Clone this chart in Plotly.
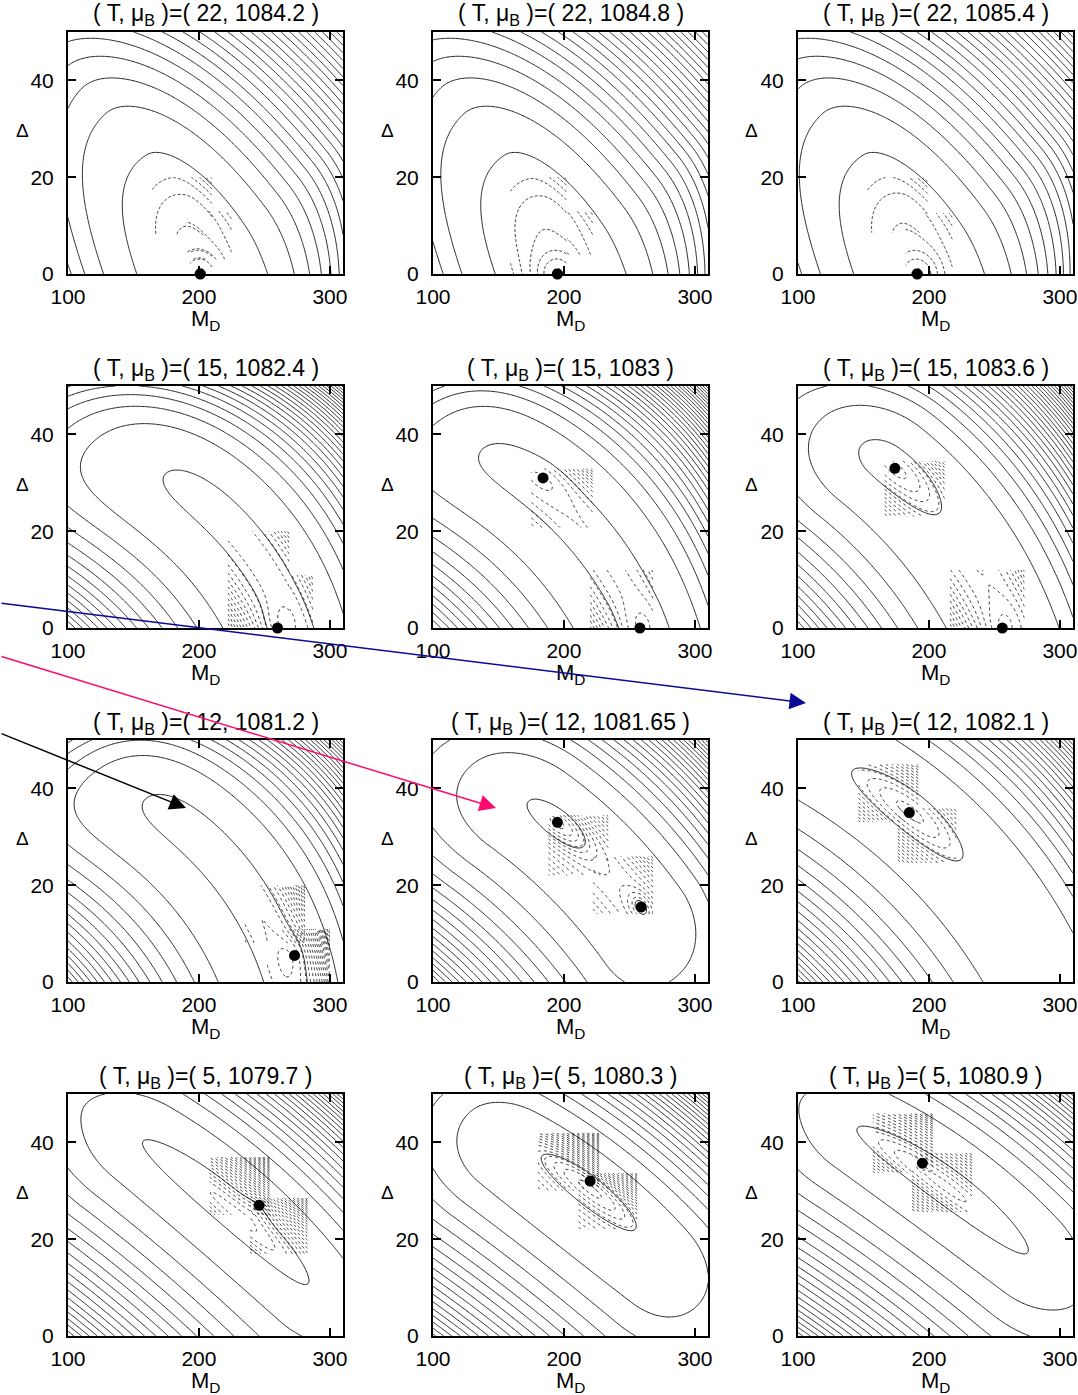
import numpy as np
import plotly.graph_objects as go

W, H = 1078, 1395
COL_LEFT = [68, 433, 798]
ROW_TOP = [32, 386, 740, 1094]
PW, PH = 275, 242

T_vals = [22, 22, 22, 15, 15, 15, 12, 12, 12, 5, 5, 5]
mu_vals = ["1084.2", "1084.8", "1085.4", "1082.4", "1083", "1083.6",
           "1081.2", "1081.65", "1082.1", "1079.7", "1080.3", "1080.9"]

# minima (dots)
min_M = [[201], [195], [191], [260], [184, 258], [174, 256],
         [273], [195, 259], [185], [246], [220], [195]]
min_D = [[0], [0], [0], [0], [31, 0], [33, 0],
         [5.5], [33, 15.5], [35], [27], [32], [35.7]]

# valley end points (M, Delta) of each landscape
v1_M = [140, 135, 130, 175, 138, 120, 160, 150, 125, 134, 138, 125]
v1_D = [47, 47, 47, 32, 37, 43, 38, 41, 47, 45, 43, 47]
v2_M = [201, 196, 191, 273, 263, 262, 267, 285, 290, 305, 293, 300]
v2_D = [0, 0, 0, 0, 0, 0, 0, 3, 0, 5, 10, 12]
kap = [0, 0, 0, 0.17, 0.15, 0.12, 0.17, 0.1, 0.1, 0.05, 0.05, 0.05]
A_c = [1.08, 1.08, 1.08, 2.2, 2.2, 2.2, 2.2, 2.2, 2.2, 3.0, 3.0, 3.0]
A4n = [0.853, 0.853, 0.853, 0.5, 0.5, 0.5, 0.5, 0.5, 0.5, 0.3, 0.3, 0.3]
A4p = [0.0, 0.0, 0.0, 0.5, 0.5, 0.5, 0.5, 0.5, 0.5, 0.3, 0.3, 0.3]
C_c = [3.35, 3.35, 3.35, 2.6, 2.6, 2.6, 2.6, 2.6, 2.6, 3.0, 3.0, 3.0]
rC = [2, 2, 2, 3, 3, 3, 3, 3, 3, 3, 3, 3]
# steep upper-right wall: direction (None: across the valley), offset, bending
wall_phi = [45, 45, 45, None, None, None, None, None, None, None, None, None]
wall_u0 = [0.465, 0.465, 0.465, 0, 0, 0, 0, 0, 0, 0, 0, 0]
wall_k = [0.54, 0.54, 0.54, 0, 0, 0, 0, 0, 0, 0, 0, 0]
off = [0.5, 0.5, 0.5, 0.1, 0.14, 0.3, 0.12, 0.3, 0.3, 0.35, 0.35, 0.35]
Q0 = [0, 0, 0, 0, 0, 0.45, 0, 0.5, 0.5, 0.45, 0.45, 0.45]
Q2 = [0, 0, 0, 0, 0, 0, 0, 0, 0, 0.3, 0.3, 0.3]
Bp = [0.386, 0.386, 0.386, 0.1, 0.14, 3.4, 0.12, 2.64, 6.0, 3.0, 3.0, 3.0]
sp = [-1, -1, -1, 0, 0, 0.5, 0, 0.7, 0.9, 0.75, 0.75, 0.75]
qp = [3, 3, 3, 4.5, 6, 2, 6, 2, 2, 2, 2, 2]
Bn = [0.386, 0.386, 0.386, 0, 0, 0, 0, 3.8, 0, 3.0, 3.0, 3.0]
sn = [-1, -1, -1, 0, 0, 0, 0, -0.6, 0, -0.75, -0.75, -0.75]
qn = [3, 3, 3, 2, 2, 2, 2, 2, 2, 2, 2, 2]
# local wells: (M, Delta, depth, along width, across width)
wells = [
    [(201, 0, 0.3, 0.15, 0.15)],
    [(195, 0, 0.3, 0.15, 0.15)],
    [(191, 0, 0.3, 0.15, 0.15)],
    [(260, 0, 0.08, 0.15, 0.15)],
    [(184, 31, 0.1, 0.2, 0.12), (258, 0, 0.08, 0.15, 0.15)],
    [(174, 33, 0.4, 0.45, 0.2), (256, 0, 0.1, 0.15, 0.15)],
    [(273, 5.5, 0.08, 0.15, 0.15)],
    [(195, 33, 0.45, 0.28, 0.12), (259, 15.5, 0.25, 0.12, 0.08)],
    [(185, 35, 0.45, 0.55, 0.2)],
    [(222, 26.5, 0.4, 1.2, 0.15), (246, 27, 0.1, 0.12, 0.1)],
    [(220, 31, 0.4, 0.5, 0.12)],
    [(208, 31.5, 0.4, 1.2, 0.15)],
]

# regions with fine (dotted) contours: (M0, M1, D0, D1)
patches = [
    [(164, 210, 8, 20), (190, 225, 3, 13), (193, 210, 0, 5)],
    [(159, 202, 0, 20), (202, 222, 4, 13)],
    [(153, 199, 8.5, 20), (182, 218, 0, 12.6)],
    [(222, 269, 0, 20), (269, 287, 0, 11)],
    [(175, 222, 20.7, 33), (220, 268, 0, 12)],
    [(166, 212, 23, 34.5), (216, 273, 0, 12)],
    [(235, 281, 8, 20), (252, 300, 0, 11)],
    [(188, 234, 22, 34.5), (222, 268, 14, 26)],
    [(146, 192, 33, 45), (176, 221, 24.6, 36)],
    [(208, 254, 25, 37), (239, 283, 17, 28.5)],
    [(180, 227, 30, 42), (211, 256, 22, 33.7)],
    [(157, 203, 33.7, 46), (187, 233, 25.6, 37.8)],
]

M_grid = np.linspace(100, 310, 221)
D_grid = np.linspace(0, 50, 161)
SX, SY = 0.0131, 0.0484  # visual scale (units of 100 px)


def coords(k, MM, DD):
    X = (MM - 100) * SX
    Y = DD * SY
    x1, y1 = (v1_M[k] - 100) * SX, v1_D[k] * SY
    x2, y2 = (v2_M[k] - 100) * SX, v2_D[k] * SY
    a = np.arctan2(y1 - y2, x1 - x2)
    L = 0.5 * np.hypot(x1 - x2, y1 - y2)
    xc, yc = 0.5 * (x1 + x2), 0.5 * (y1 + y2)
    dx, dy = X - xc, Y - yc
    s = dx * np.cos(a) + dy * np.sin(a)
    t = dx * np.sin(a) - dy * np.cos(a)
    te = t - kap[k] * (L ** 2 - s ** 2)
    return X, Y, s, te, L


def field(k, MM, DD):
    X, Y, s, te, L = coords(k, MM, DD)
    f = A_c[k] * te ** 2 + np.where(te < 0, A4n[k], A4p[k]) * te ** 4
    if wall_phi[k] is None:
        u = te
    else:
        ph = np.radians(wall_phi[k])
        ex = X - (v2_M[k] - 100) * SX
        ey = Y - v2_D[k] * SY
        p = ex * np.cos(ph) + ey * np.sin(ph)
        w = -ex * np.sin(ph) + ey * np.cos(ph)
        u = p + wall_k[k] * np.clip(-w, 0, None) ** 2 - wall_u0[k]
    f = f + C_c[k] * np.clip(u, 0, None) ** rC[k]
    sig = s / L
    f = f + Q0[k] + Q2[k] * sig ** 2
    f = f + Bp[k] * np.clip(sig - sp[k], 0, None) ** qp[k]
    f = f + Bn[k] * np.clip(sn[k] - sig, 0, None) ** qn[k]
    for (wm, wd, dep, wl, wt) in wells[k]:
        _, _, sw, tw, _ = coords(k, np.array(wm, float), np.array(wd, float))
        f = f - dep * np.exp(-(s - sw) ** 2 / (2 * wl ** 2) - (te - tw) ** 2 / (2 * wt ** 2))
    return f


fig = go.Figure()
BLACK = [[0, "black"], [1, "black"]]
FONT = "Liberation Sans, Arial, sans-serif"
MM, DD = np.meshgrid(M_grid, D_grid)

annotations = []
for k in range(12):
    r, c = divmod(k, 3)
    ax_id = "" if k == 0 else str(k + 1)
    x0 = COL_LEFT[c]
    y0 = ROW_TOP[r]
    Z = field(k, MM, DD)
    fig.add_trace(go.Contour(
        x=M_grid, y=D_grid, z=Z, xaxis="x" + ax_id, yaxis="y" + ax_id,
        contours=dict(coloring="lines", start=off[k], end=off[k] + 80, size=1),
        colorscale=BLACK, showscale=False, line=dict(width=0.85), hoverinfo="skip"))
    fine = 0.1 if r == 0 else 0.07
    dash = "3px,2px" if r == 0 else "dot"
    for (m0, m1, d0, d1) in patches[k]:
        mg = np.linspace(m0, m1, 70)
        dg = np.linspace(d0, d1, 70)
        m2, d2 = np.meshgrid(mg, dg)
        Zp = field(k, m2, d2)
        fig.add_trace(go.Contour(
            x=mg, y=dg, z=Zp, xaxis="x" + ax_id, yaxis="y" + ax_id,
            contours=dict(coloring="lines", start=Zp.min() + 0.02, end=off[k] + 2.5, size=fine),
            colorscale=BLACK, showscale=False, line=dict(width=0.8, dash=dash),
            hoverinfo="skip"))
    fig.add_trace(go.Scatter(
        x=min_M[k], y=min_D[k], mode="markers", xaxis="x" + ax_id, yaxis="y" + ax_id,
        marker=dict(color="black", size=11), cliponaxis=False, hoverinfo="skip",
        showlegend=False))
    xd = [x0 / W, (x0 + PW) / W]
    yd = [1 - (y0 + PH) / H, 1 - y0 / H]
    common = dict(showline=True, linewidth=2, linecolor="black", mirror="ticks",
                  ticks="inside", ticklen=8, tickwidth=1.5, tickcolor="black",
                  showgrid=False, zeroline=False,
                  tickfont=dict(family=FONT, size=21, color="black"))
    fig.layout["xaxis" + ax_id] = dict(domain=xd, anchor="y" + ax_id, range=[100, 310],
                                       tickvals=[100, 200, 300], ticklabelstandoff=3, **common)
    fig.layout["yaxis" + ax_id] = dict(domain=yd, anchor="x" + ax_id, range=[0, 50],
                                       tickvals=[0, 20, 40], ticklabelstandoff=8, **common)
    xm = (x0 + PW / 2) / W
    annotations.append(dict(
        x=xm, y=1 - (y0 - 17) / H, xref="paper", yref="paper", showarrow=False,
        text="( T, \u03bc<sub>B</sub> )=( %d, %s )" % (T_vals[k], mu_vals[k]),
        font=dict(family=FONT, size=23, color="black"), xanchor="center", yanchor="middle"))
    annotations.append(dict(
        x=xm, y=1 - (y0 + PH + 46) / H, xref="paper", yref="paper", showarrow=False,
        text="M<sub>D</sub>", font=dict(family=FONT, size=22, color="black"),
        xanchor="center", yanchor="middle"))
    annotations.append(dict(
        x=(x0 - 46) / W, y=1 - (y0 + 98) / H, xref="paper", yref="paper", showarrow=False,
        text="\u0394", font=dict(family=FONT, size=19, color="black"),
        xanchor="center", yanchor="middle"))

# arrows: (tail y at left edge, head x, head y, colour)
arrow_tail_y = [603, 656, 733]
arrow_head_x = [806, 496, 186]
arrow_head_y = [703, 808, 808]
arrow_col = ["#0a0a96", "#ff0a6e", "#000000"]
for ty, hx, hy, col in zip(arrow_tail_y, arrow_head_x, arrow_head_y, arrow_col):
    annotations.append(dict(
        x=hx / W, y=1 - hy / H, xref="paper", yref="paper", text="", showarrow=True,
        ax=-hx, ay=ty - hy, axref="pixel", ayref="pixel",
        arrowhead=2, arrowsize=2.2, arrowwidth=1.5, arrowcolor=col, standoff=0))

fig.update_layout(width=W, height=H,
                  margin=dict(l=0, r=0, t=0, b=0, autoexpand=False),
                  paper_bgcolor="white", plot_bgcolor="white", showlegend=False,
                  annotations=annotations)
fig.write_html("out.html")
